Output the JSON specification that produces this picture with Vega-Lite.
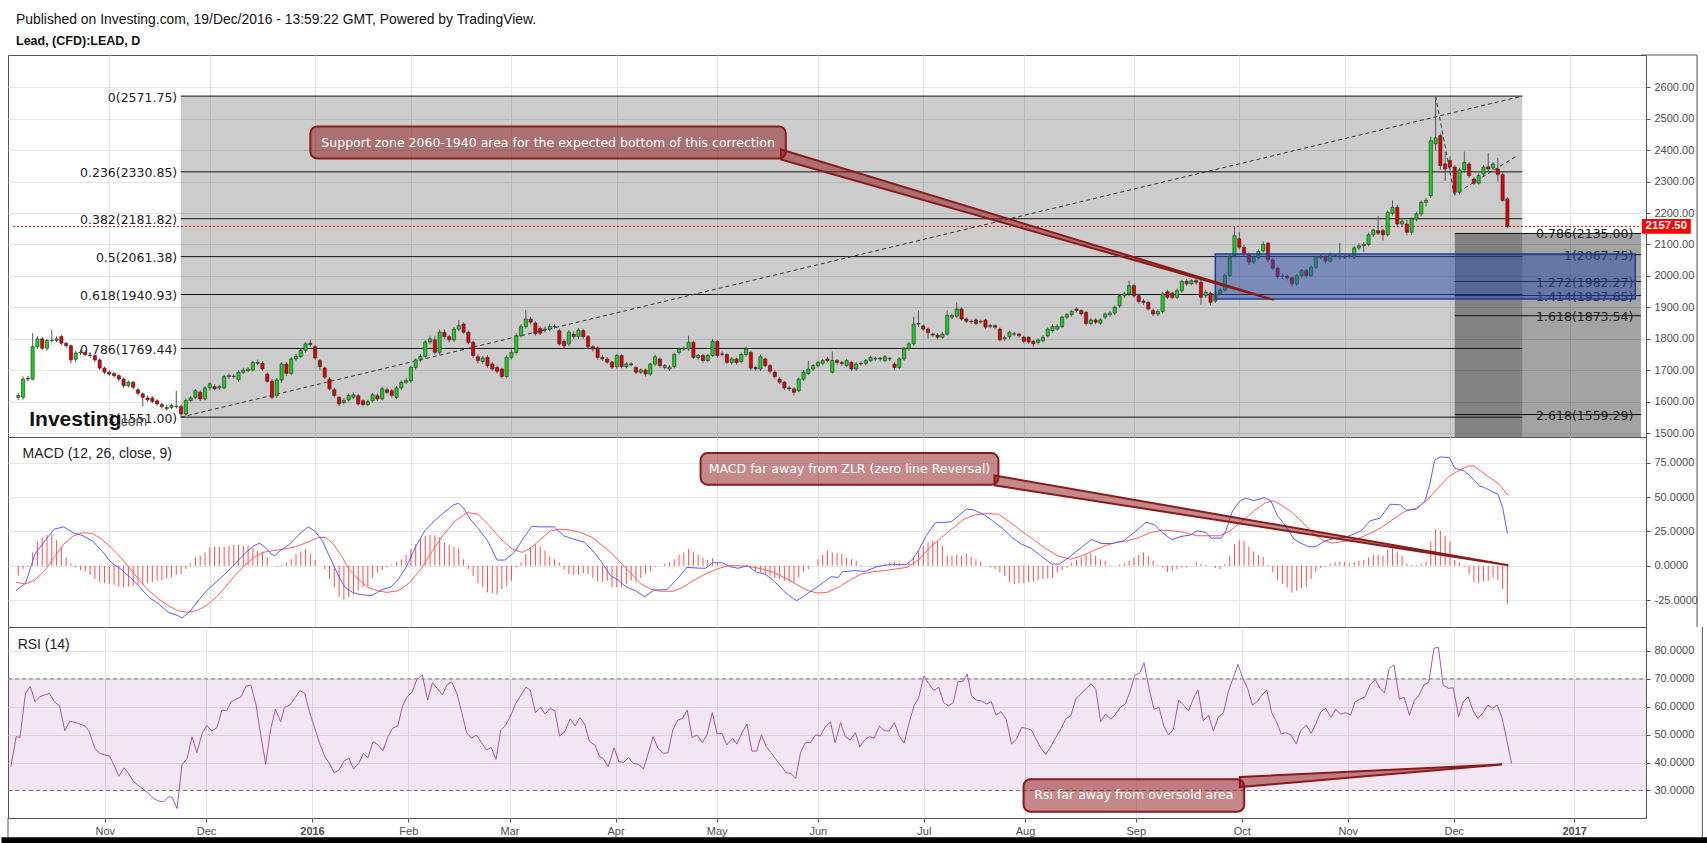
{
"$schema": "https://vega.github.io/schema/vega-lite/v6.json",
"background": "white",
"padding": {"left": 0, "top": 12, "right": 0, "bottom": 0},
"title": {"text": "Published on Investing.com, 19/Dec/2016 - 13:59:22 GMT, Powered by TradingView.", "subtitle": "Lead, (CFD):LEAD, D", "anchor": "start", "dx": 15, "font": "Liberation Sans", "fontSize": 13.9, "fontWeight": "normal", "color": "#111", "subtitleFont": "Liberation Sans", "subtitleFontSize": 12.5, "subtitleFontWeight": "bold", "subtitleColor": "#111", "subtitlePadding": 8, "offset": 7},
"spacing": 0,
"bounds": "flush",
"config": {
  "view": {"stroke": "#555", "strokeWidth": 1},
  "axis": {"gridColor": "#e5e5e5", "gridWidth": 1, "domainColor": "#555", "tickColor": "#555", "labelColor": "#4d4d4d", "labelFont": "Liberation Sans", "labelFontSize": 11, "labelOverlap": false},
  "axisX": {"labels": false, "ticks": false, "domain": false, "grid": true},
  "axisY": {"grid": true, "labelOverlap": false}
},
"datasets": {
"px": [
{"i":-19,"o":1614,"h":1628,"l":1604,"c":1620},{"i":-18,"o":1614,"h":1680,"l":1606,"c":1672},{"i":-17,"o":1672,"h":1682,"l":1665,"c":1675},{"i":-16,"o":1672,"h":1818,"l":1668,"c":1775},{"i":-15,"o":1775,"h":1808,"l":1768,"c":1800},{"i":-14,"o":1800,"h":1806,"l":1764,"c":1770},{"i":-13,"o":1770,"h":1800,"l":1762,"c":1795},{"i":-12,"o":1795,"h":1828,"l":1788,"c":1796},{"i":-11,"o":1795,"h":1808,"l":1790,"c":1800},{"i":-10,"o":1807,"h":1812,"l":1780,"c":1786},
{"i":-9,"o":1786,"h":1790,"l":1772,"c":1778},{"i":-8,"o":1778,"h":1782,"l":1722,"c":1733},{"i":-7,"o":1735,"h":1762,"l":1726,"c":1755},{"i":-6,"o":1755,"h":1766,"l":1748,"c":1758},{"i":-5,"o":1757,"h":1764,"l":1745,"c":1750},{"i":-4,"o":1748,"h":1755,"l":1740,"c":1747},{"i":-3,"o":1747,"h":1750,"l":1726,"c":1733},{"i":-2,"o":1733,"h":1738,"l":1700,"c":1707},{"i":-1,"o":1707,"h":1712,"l":1688,"c":1694},{"i":0,"o":1694,"h":1700,"l":1682,"c":1688},
{"i":1,"o":1690,"h":1694,"l":1676,"c":1683},{"i":2,"o":1683,"h":1688,"l":1665,"c":1672},{"i":3,"o":1672,"h":1676,"l":1644,"c":1651},{"i":4,"o":1651,"h":1668,"l":1645,"c":1662},{"i":5,"o":1662,"h":1666,"l":1640,"c":1646},{"i":6,"o":1638,"h":1644,"l":1620,"c":1627},{"i":7,"o":1625,"h":1630,"l":1585,"c":1614},{"i":8,"o":1612,"h":1620,"l":1600,"c":1606},{"i":9,"o":1612,"h":1618,"l":1596,"c":1601},{"i":10,"o":1603,"h":1608,"l":1588,"c":1593},
{"i":11,"o":1591,"h":1596,"l":1578,"c":1585},{"i":12,"o":1577,"h":1590,"l":1572,"c":1582},{"i":13,"o":1582,"h":1594,"l":1576,"c":1588},{"i":14,"o":1585,"h":1635,"l":1578,"c":1586},{"i":15,"o":1585,"h":1592,"l":1551,"c":1561},{"i":16,"o":1561,"h":1610,"l":1556,"c":1604},{"i":17,"o":1604,"h":1618,"l":1598,"c":1612},{"i":18,"o":1614,"h":1640,"l":1608,"c":1635},{"i":19,"o":1630,"h":1636,"l":1602,"c":1609},{"i":20,"o":1609,"h":1650,"l":1604,"c":1644},
{"i":21,"o":1644,"h":1662,"l":1636,"c":1657},{"i":22,"o":1648,"h":1656,"l":1636,"c":1641},{"i":23,"o":1644,"h":1654,"l":1638,"c":1648},{"i":24,"o":1644,"h":1686,"l":1640,"c":1680},{"i":25,"o":1680,"h":1690,"l":1672,"c":1684},{"i":26,"o":1680,"h":1688,"l":1674,"c":1681},{"i":27,"o":1670,"h":1700,"l":1664,"c":1694},{"i":28,"o":1694,"h":1708,"l":1688,"c":1701},{"i":29,"o":1699,"h":1710,"l":1694,"c":1704},{"i":30,"o":1701,"h":1730,"l":1696,"c":1725},
{"i":31,"o":1722,"h":1734,"l":1716,"c":1725},{"i":32,"o":1722,"h":1728,"l":1698,"c":1704},{"i":33,"o":1688,"h":1694,"l":1660,"c":1665},{"i":34,"o":1665,"h":1672,"l":1608,"c":1614},{"i":35,"o":1620,"h":1676,"l":1612,"c":1669},{"i":36,"o":1669,"h":1726,"l":1660,"c":1720},{"i":37,"o":1720,"h":1726,"l":1682,"c":1690},{"i":38,"o":1690,"h":1742,"l":1684,"c":1736},{"i":39,"o":1736,"h":1752,"l":1728,"c":1744},{"i":40,"o":1744,"h":1770,"l":1738,"c":1763},
{"i":41,"o":1763,"h":1790,"l":1756,"c":1784},{"i":42,"o":1786,"h":1797,"l":1775,"c":1782},{"i":43,"o":1775,"h":1780,"l":1734,"c":1739},{"i":44,"o":1731,"h":1736,"l":1700,"c":1712},{"i":45,"o":1707,"h":1712,"l":1672,"c":1678},{"i":46,"o":1672,"h":1678,"l":1636,"c":1641},{"i":47,"o":1638,"h":1644,"l":1614,"c":1620},{"i":48,"o":1614,"h":1618,"l":1586,"c":1593},{"i":49,"o":1598,"h":1612,"l":1592,"c":1604},{"i":50,"o":1606,"h":1626,"l":1600,"c":1620},
{"i":51,"o":1614,"h":1630,"l":1608,"c":1622},{"i":52,"o":1619,"h":1624,"l":1588,"c":1593},{"i":53,"o":1603,"h":1608,"l":1585,"c":1591},{"i":54,"o":1591,"h":1606,"l":1586,"c":1600},{"i":55,"o":1603,"h":1628,"l":1598,"c":1622},{"i":56,"o":1619,"h":1626,"l":1602,"c":1609},{"i":57,"o":1609,"h":1648,"l":1604,"c":1641},{"i":58,"o":1638,"h":1646,"l":1624,"c":1630},{"i":59,"o":1635,"h":1640,"l":1614,"c":1620},{"i":60,"o":1614,"h":1650,"l":1608,"c":1644},
{"i":61,"o":1644,"h":1668,"l":1638,"c":1662},{"i":62,"o":1662,"h":1676,"l":1656,"c":1667},{"i":63,"o":1667,"h":1714,"l":1660,"c":1709},{"i":64,"o":1709,"h":1738,"l":1702,"c":1733},{"i":65,"o":1733,"h":1752,"l":1726,"c":1744},{"i":66,"o":1744,"h":1796,"l":1738,"c":1790},{"i":67,"o":1790,"h":1810,"l":1782,"c":1800},{"i":68,"o":1797,"h":1810,"l":1750,"c":1757},{"i":69,"o":1757,"h":1830,"l":1750,"c":1821},{"i":70,"o":1821,"h":1830,"l":1800,"c":1807},
{"i":71,"o":1807,"h":1812,"l":1788,"c":1797},{"i":72,"o":1797,"h":1838,"l":1790,"c":1831},{"i":73,"o":1831,"h":1860,"l":1824,"c":1842},{"i":74,"o":1847,"h":1852,"l":1816,"c":1821},{"i":75,"o":1821,"h":1826,"l":1782,"c":1789},{"i":76,"o":1789,"h":1794,"l":1740,"c":1747},{"i":77,"o":1743,"h":1750,"l":1722,"c":1731},{"i":78,"o":1728,"h":1746,"l":1720,"c":1739},{"i":79,"o":1741,"h":1748,"l":1708,"c":1715},{"i":80,"o":1720,"h":1726,"l":1698,"c":1704},
{"i":81,"o":1709,"h":1714,"l":1690,"c":1697},{"i":82,"o":1704,"h":1708,"l":1674,"c":1680},{"i":83,"o":1680,"h":1748,"l":1674,"c":1741},{"i":84,"o":1741,"h":1766,"l":1734,"c":1757},{"i":85,"o":1757,"h":1818,"l":1750,"c":1810},{"i":86,"o":1810,"h":1846,"l":1804,"c":1839},{"i":87,"o":1839,"h":1892,"l":1832,"c":1863},{"i":88,"o":1863,"h":1870,"l":1846,"c":1853},{"i":89,"o":1850,"h":1856,"l":1810,"c":1816},{"i":90,"o":1833,"h":1840,"l":1812,"c":1818},
{"i":91,"o":1828,"h":1840,"l":1820,"c":1831},{"i":92,"o":1831,"h":1848,"l":1824,"c":1839},{"i":93,"o":1839,"h":1846,"l":1832,"c":1840},{"i":94,"o":1826,"h":1832,"l":1778,"c":1784},{"i":95,"o":1792,"h":1798,"l":1770,"c":1778},{"i":96,"o":1784,"h":1828,"l":1776,"c":1821},{"i":97,"o":1815,"h":1824,"l":1800,"c":1807},{"i":98,"o":1807,"h":1834,"l":1800,"c":1828},{"i":99,"o":1826,"h":1832,"l":1800,"c":1807},{"i":100,"o":1807,"h":1812,"l":1768,"c":1775},
{"i":101,"o":1775,"h":1780,"l":1760,"c":1768},{"i":102,"o":1771,"h":1776,"l":1734,"c":1741},{"i":103,"o":1741,"h":1748,"l":1730,"c":1736},{"i":104,"o":1736,"h":1742,"l":1720,"c":1726},{"i":105,"o":1726,"h":1730,"l":1704,"c":1710},{"i":106,"o":1712,"h":1752,"l":1706,"c":1747},{"i":107,"o":1747,"h":1752,"l":1706,"c":1712},{"i":108,"o":1712,"h":1726,"l":1706,"c":1720},{"i":109,"o":1720,"h":1726,"l":1712,"c":1718},{"i":110,"o":1709,"h":1714,"l":1688,"c":1694},
{"i":111,"o":1694,"h":1706,"l":1688,"c":1701},{"i":112,"o":1701,"h":1706,"l":1680,"c":1688},{"i":113,"o":1688,"h":1724,"l":1682,"c":1720},{"i":114,"o":1720,"h":1750,"l":1714,"c":1743},{"i":115,"o":1736,"h":1740,"l":1708,"c":1715},{"i":116,"o":1709,"h":1720,"l":1702,"c":1715},{"i":117,"o":1704,"h":1716,"l":1698,"c":1710},{"i":118,"o":1712,"h":1756,"l":1706,"c":1750},{"i":119,"o":1757,"h":1772,"l":1750,"c":1768},{"i":120,"o":1768,"h":1776,"l":1762,"c":1769},
{"i":121,"o":1768,"h":1810,"l":1762,"c":1789},{"i":122,"o":1789,"h":1794,"l":1736,"c":1741},{"i":123,"o":1741,"h":1752,"l":1734,"c":1747},{"i":124,"o":1747,"h":1752,"l":1724,"c":1731},{"i":125,"o":1731,"h":1752,"l":1726,"c":1747},{"i":126,"o":1747,"h":1800,"l":1742,"c":1792},{"i":127,"o":1792,"h":1796,"l":1740,"c":1747},{"i":128,"o":1752,"h":1760,"l":1744,"c":1751},{"i":129,"o":1750,"h":1754,"l":1720,"c":1725},{"i":130,"o":1725,"h":1742,"l":1718,"c":1736},
{"i":131,"o":1736,"h":1740,"l":1718,"c":1725},{"i":132,"o":1728,"h":1756,"l":1722,"c":1750},{"i":133,"o":1750,"h":1776,"l":1744,"c":1768},{"i":134,"o":1757,"h":1762,"l":1700,"c":1707},{"i":135,"o":1709,"h":1714,"l":1698,"c":1705},{"i":136,"o":1704,"h":1750,"l":1698,"c":1743},{"i":137,"o":1736,"h":1740,"l":1710,"c":1715},{"i":138,"o":1715,"h":1720,"l":1690,"c":1697},{"i":139,"o":1694,"h":1700,"l":1674,"c":1680},{"i":140,"o":1672,"h":1678,"l":1656,"c":1662},
{"i":141,"o":1662,"h":1666,"l":1638,"c":1644},{"i":142,"o":1644,"h":1650,"l":1634,"c":1641},{"i":143,"o":1641,"h":1646,"l":1620,"c":1630},{"i":144,"o":1635,"h":1678,"l":1630,"c":1672},{"i":145,"o":1672,"h":1700,"l":1666,"c":1694},{"i":146,"o":1690,"h":1730,"l":1684,"c":1704},{"i":147,"o":1704,"h":1720,"l":1698,"c":1715},{"i":148,"o":1715,"h":1730,"l":1708,"c":1725},{"i":149,"o":1722,"h":1736,"l":1716,"c":1731},{"i":150,"o":1736,"h":1742,"l":1726,"c":1731},
{"i":151,"o":1694,"h":1760,"l":1690,"c":1731},{"i":152,"o":1731,"h":1736,"l":1718,"c":1725},{"i":153,"o":1725,"h":1730,"l":1714,"c":1722},{"i":154,"o":1715,"h":1736,"l":1710,"c":1731},{"i":155,"o":1725,"h":1730,"l":1698,"c":1704},{"i":156,"o":1704,"h":1726,"l":1698,"c":1720},{"i":157,"o":1720,"h":1728,"l":1714,"c":1722},{"i":158,"o":1722,"h":1736,"l":1716,"c":1731},{"i":159,"o":1731,"h":1746,"l":1726,"c":1741},{"i":160,"o":1736,"h":1744,"l":1730,"c":1738},
{"i":161,"o":1736,"h":1742,"l":1728,"c":1739},{"i":162,"o":1731,"h":1748,"l":1726,"c":1743},{"i":163,"o":1736,"h":1742,"l":1730,"c":1738},{"i":164,"o":1720,"h":1726,"l":1700,"c":1709},{"i":165,"o":1709,"h":1742,"l":1704,"c":1736},{"i":166,"o":1736,"h":1774,"l":1730,"c":1769},{"i":167,"o":1769,"h":1790,"l":1762,"c":1784},{"i":168,"o":1784,"h":1870,"l":1778,"c":1847},{"i":169,"o":1847,"h":1890,"l":1838,"c":1849},{"i":170,"o":1841,"h":1846,"l":1826,"c":1831},
{"i":171,"o":1831,"h":1836,"l":1800,"c":1820},{"i":172,"o":1815,"h":1820,"l":1806,"c":1812},{"i":173,"o":1812,"h":1818,"l":1798,"c":1805},{"i":174,"o":1805,"h":1822,"l":1800,"c":1815},{"i":175,"o":1815,"h":1890,"l":1810,"c":1874},{"i":176,"o":1869,"h":1880,"l":1862,"c":1874},{"i":177,"o":1872,"h":1916,"l":1866,"c":1895},{"i":178,"o":1895,"h":1900,"l":1858,"c":1863},{"i":179,"o":1863,"h":1868,"l":1850,"c":1856},{"i":180,"o":1856,"h":1862,"l":1848,"c":1855},
{"i":181,"o":1860,"h":1866,"l":1844,"c":1849},{"i":182,"o":1854,"h":1862,"l":1848,"c":1856},{"i":183,"o":1860,"h":1864,"l":1832,"c":1837},{"i":184,"o":1842,"h":1848,"l":1834,"c":1840},{"i":185,"o":1842,"h":1846,"l":1830,"c":1837},{"i":186,"o":1831,"h":1836,"l":1792,"c":1797},{"i":187,"o":1800,"h":1810,"l":1794,"c":1804},{"i":188,"o":1807,"h":1826,"l":1800,"c":1821},{"i":189,"o":1816,"h":1822,"l":1808,"c":1815},{"i":190,"o":1815,"h":1820,"l":1804,"c":1810},
{"i":191,"o":1805,"h":1810,"l":1786,"c":1792},{"i":192,"o":1805,"h":1808,"l":1784,"c":1790},{"i":193,"o":1792,"h":1796,"l":1775,"c":1784},{"i":194,"o":1789,"h":1802,"l":1782,"c":1796},{"i":195,"o":1794,"h":1812,"l":1788,"c":1805},{"i":196,"o":1810,"h":1836,"l":1804,"c":1831},{"i":197,"o":1826,"h":1846,"l":1820,"c":1839},{"i":198,"o":1831,"h":1846,"l":1826,"c":1840},{"i":199,"o":1839,"h":1874,"l":1834,"c":1869},{"i":200,"o":1869,"h":1882,"l":1862,"c":1877},
{"i":201,"o":1877,"h":1892,"l":1870,"c":1887},{"i":202,"o":1895,"h":1900,"l":1884,"c":1890},{"i":203,"o":1890,"h":1894,"l":1874,"c":1880},{"i":204,"o":1884,"h":1888,"l":1842,"c":1849},{"i":205,"o":1849,"h":1866,"l":1842,"c":1860},{"i":206,"o":1860,"h":1866,"l":1846,"c":1853},{"i":207,"o":1850,"h":1866,"l":1844,"c":1860},{"i":208,"o":1869,"h":1884,"l":1862,"c":1879},{"i":209,"o":1877,"h":1888,"l":1870,"c":1882},{"i":210,"o":1882,"h":1906,"l":1876,"c":1900},
{"i":211,"o":1905,"h":1942,"l":1898,"c":1937},{"i":212,"o":1937,"h":1950,"l":1930,"c":1943},{"i":213,"o":1943,"h":1985,"l":1936,"c":1969},{"i":214,"o":1969,"h":1974,"l":1930,"c":1937},{"i":215,"o":1937,"h":1942,"l":1912,"c":1919},{"i":216,"o":1920,"h":1926,"l":1908,"c":1916},{"i":217,"o":1916,"h":1920,"l":1890,"c":1895},{"i":218,"o":1890,"h":1896,"l":1872,"c":1879},{"i":219,"o":1879,"h":1894,"l":1872,"c":1887},{"i":220,"o":1887,"h":1948,"l":1880,"c":1943},
{"i":221,"o":1950,"h":1956,"l":1926,"c":1932},{"i":222,"o":1945,"h":1950,"l":1926,"c":1932},{"i":223,"o":1932,"h":1960,"l":1926,"c":1953},{"i":224,"o":1953,"h":1988,"l":1946,"c":1983},{"i":225,"o":1983,"h":1990,"l":1968,"c":1975},{"i":226,"o":1975,"h":1990,"l":1970,"c":1985},{"i":227,"o":1985,"h":1992,"l":1972,"c":1980},{"i":228,"o":1980,"h":1988,"l":1908,"c":1932},{"i":229,"o":1937,"h":1956,"l":1930,"c":1948},{"i":230,"o":1945,"h":1950,"l":1906,"c":1916},
{"i":231,"o":1920,"h":1948,"l":1914,"c":1943},{"i":232,"o":1943,"h":1962,"l":1938,"c":1955},{"i":233,"o":1955,"h":2008,"l":1950,"c":2001},{"i":234,"o":2001,"h":2066,"l":1996,"c":2059},{"i":235,"o":2065,"h":2155,"l":2058,"c":2128},{"i":236,"o":2118,"h":2140,"l":2084,"c":2091},{"i":237,"o":2091,"h":2098,"l":2064,"c":2072},{"i":238,"o":2068,"h":2074,"l":2036,"c":2044},{"i":239,"o":2044,"h":2064,"l":2038,"c":2059},{"i":240,"o":2059,"h":2084,"l":2052,"c":2078},
{"i":241,"o":2080,"h":2110,"l":2074,"c":2100},{"i":242,"o":2104,"h":2108,"l":2044,"c":2051},{"i":243,"o":2051,"h":2058,"l":2018,"c":2025},{"i":244,"o":2025,"h":2030,"l":1990,"c":1998},{"i":245,"o":1998,"h":2008,"l":1990,"c":2000},{"i":246,"o":2000,"h":2004,"l":1986,"c":1994},{"i":247,"o":1994,"h":1998,"l":1965,"c":1975},{"i":248,"o":1975,"h":2006,"l":1968,"c":2001},{"i":249,"o":2001,"h":2022,"l":1994,"c":2017},{"i":250,"o":2017,"h":2022,"l":1994,"c":2001},
{"i":251,"o":2001,"h":2034,"l":1996,"c":2028},{"i":252,"o":2028,"h":2064,"l":2022,"c":2059},{"i":253,"o":2059,"h":2068,"l":2052,"c":2062},{"i":254,"o":2062,"h":2066,"l":2040,"c":2047},{"i":255,"o":2047,"h":2074,"l":2042,"c":2068},{"i":256,"o":2062,"h":2070,"l":2056,"c":2064},{"i":257,"o":2061,"h":2105,"l":2050,"c":2062},{"i":258,"o":2062,"h":2068,"l":2054,"c":2060},{"i":259,"o":2062,"h":2072,"l":2056,"c":2064},{"i":260,"o":2060,"h":2096,"l":2054,"c":2089},
{"i":261,"o":2089,"h":2104,"l":2082,"c":2096},{"i":262,"o":2096,"h":2108,"l":2076,"c":2100},{"i":263,"o":2100,"h":2138,"l":2094,"c":2131},{"i":264,"o":2131,"h":2150,"l":2124,"c":2146},{"i":265,"o":2144,"h":2190,"l":2130,"c":2136},{"i":266,"o":2144,"h":2150,"l":2112,"c":2131},{"i":267,"o":2131,"h":2208,"l":2126,"c":2202},{"i":268,"o":2199,"h":2240,"l":2192,"c":2218},{"i":269,"o":2218,"h":2226,"l":2158,"c":2165},{"i":270,"o":2165,"h":2180,"l":2156,"c":2174},
{"i":271,"o":2165,"h":2178,"l":2130,"c":2139},{"i":272,"o":2139,"h":2186,"l":2130,"c":2181},{"i":273,"o":2181,"h":2204,"l":2174,"c":2197},{"i":274,"o":2197,"h":2240,"l":2190,"c":2234},{"i":275,"o":2234,"h":2248,"l":2220,"c":2240},{"i":276,"o":2255,"h":2443,"l":2248,"c":2430},{"i":277,"o":2420,"h":2572,"l":2398,"c":2439},{"i":278,"o":2446,"h":2452,"l":2338,"c":2351},{"i":279,"o":2356,"h":2394,"l":2302,"c":2340},{"i":280,"o":2367,"h":2380,"l":2326,"c":2346},
{"i":281,"o":2346,"h":2352,"l":2255,"c":2266},{"i":282,"o":2266,"h":2344,"l":2258,"c":2337},{"i":283,"o":2337,"h":2395,"l":2330,"c":2361},{"i":284,"o":2356,"h":2362,"l":2312,"c":2319},{"i":285,"o":2308,"h":2314,"l":2290,"c":2295},{"i":286,"o":2295,"h":2326,"l":2290,"c":2319},{"i":287,"o":2324,"h":2352,"l":2318,"c":2346},{"i":288,"o":2347,"h":2390,"l":2330,"c":2340},{"i":289,"o":2343,"h":2362,"l":2336,"c":2356},{"i":290,"o":2340,"h":2375,"l":2300,"c":2322},
{"i":291,"o":2322,"h":2330,"l":2236,"c":2240},{"i":292,"o":2245,"h":2250,"l":2152,"c":2157.5}
],
"hist": [
{"i":-19,"v":-7.3},{"i":-18,"v":-2.4},{"i":-17,"v":-0.7},{"i":-16,"v":9.7},{"i":-15,"v":17.4},{"i":-14,"v":20.6},{"i":-13,"v":22.3},{"i":-12,"v":23},{"i":-11,"v":18.6},{"i":-10,"v":13.8},{"i":-9,"v":6},{"i":-8,"v":1.7},{"i":-7,"v":-1.2},{"i":-6,"v":-3.1},{"i":-5,"v":-4.4},{"i":-4,"v":-6.8},{"i":-3,"v":-9.7},{"i":-2,"v":-12.1},{"i":-1,"v":-12.8},{"i":0,"v":-13.3},
{"i":1,"v":-13.8},{"i":2,"v":-15.3},{"i":3,"v":-15.7},{"i":4,"v":-15.3},{"i":5,"v":-14.5},{"i":6,"v":-13.8},{"i":7,"v":-13.8},{"i":8,"v":-12.8},{"i":9,"v":-12.1},{"i":10,"v":-10.9},{"i":11,"v":-10.4},{"i":12,"v":-9.2},{"i":13,"v":-8.5},{"i":14,"v":-6.5},{"i":15,"v":-6},{"i":16,"v":-2.4},{"i":17,"v":1.7},{"i":18,"v":6},{"i":19,"v":7.3},{"i":20,"v":9.7},
{"i":21,"v":13.3},{"i":22,"v":13.8},{"i":23,"v":13.8},{"i":24,"v":13.8},{"i":25,"v":14.3},{"i":26,"v":15.3},{"i":27,"v":15.3},{"i":28,"v":14.5},{"i":29,"v":14.5},{"i":30,"v":12.8},{"i":31,"v":10.9},{"i":32,"v":9.7},{"i":33,"v":6},{"i":34,"v":0},{"i":35,"v":-0.7},{"i":36,"v":0.7},{"i":37,"v":2.4},{"i":38,"v":4.8},{"i":39,"v":8.5},{"i":40,"v":10.4},
{"i":41,"v":12.1},{"i":42,"v":8.5},{"i":43,"v":4.1},{"i":44,"v":0},{"i":45,"v":-2.4},{"i":46,"v":-9.7},{"i":47,"v":-15.7},{"i":48,"v":-22.5},{"i":49,"v":-24.5},{"i":50,"v":-23},{"i":51,"v":-21},{"i":52,"v":-18.2},{"i":53,"v":-15.7},{"i":54,"v":-15},{"i":55,"v":-8.5},{"i":56,"v":-4.8},{"i":57,"v":-3.1},{"i":58,"v":-1.2},{"i":59,"v":0.7},{"i":60,"v":2.9},
{"i":61,"v":4.8},{"i":62,"v":8},{"i":63,"v":12.1},{"i":64,"v":15.7},{"i":65,"v":19.4},{"i":66,"v":21.8},{"i":67,"v":22.5},{"i":68,"v":22.3},{"i":69,"v":20.6},{"i":70,"v":17},{"i":71,"v":15.3},{"i":72,"v":13.8},{"i":73,"v":12.8},{"i":74,"v":4.8},{"i":75,"v":-2.4},{"i":76,"v":-7.3},{"i":77,"v":-12.8},{"i":78,"v":-15.7},{"i":79,"v":-19.4},{"i":80,"v":-20.1},
{"i":81,"v":-21},{"i":82,"v":-17},{"i":83,"v":-14.5},{"i":84,"v":-10.9},{"i":85,"v":-1.2},{"i":86,"v":2.4},{"i":87,"v":8.5},{"i":88,"v":13.3},{"i":89,"v":15.7},{"i":90,"v":13.8},{"i":91,"v":10.9},{"i":92,"v":7.3},{"i":93,"v":4.8},{"i":94,"v":2.4},{"i":95,"v":-3.1},{"i":96,"v":-6},{"i":97,"v":-6.5},{"i":98,"v":-6.5},{"i":99,"v":-5.6},{"i":100,"v":-6},
{"i":101,"v":-9},{"i":102,"v":-11.4},{"i":103,"v":-12.1},{"i":104,"v":-10.9},{"i":105,"v":-15.7},{"i":106,"v":-15.7},{"i":107,"v":-15.7},{"i":108,"v":-13.3},{"i":109,"v":-10.9},{"i":110,"v":-12.1},{"i":111,"v":-9},{"i":112,"v":-6},{"i":113,"v":-4.1},{"i":114,"v":-0.7},{"i":115,"v":0},{"i":116,"v":1.2},{"i":117,"v":2.4},{"i":118,"v":4.8},{"i":119,"v":8},{"i":120,"v":9.7},
{"i":121,"v":12.1},{"i":122,"v":9.7},{"i":123,"v":8},{"i":124,"v":5.6},{"i":125,"v":4.1},{"i":126,"v":5.6},{"i":127,"v":2.4},{"i":128,"v":0.7},{"i":129,"v":-0.7},{"i":130,"v":-0.7},{"i":131,"v":0},{"i":132,"v":0},{"i":133,"v":-0.7},{"i":134,"v":-1.7},{"i":135,"v":-3.6},{"i":136,"v":-4.8},{"i":137,"v":-6},{"i":138,"v":-7.3},{"i":139,"v":-9},{"i":140,"v":-9.7},
{"i":141,"v":-10.9},{"i":142,"v":-12.1},{"i":143,"v":-12.8},{"i":144,"v":-8.5},{"i":145,"v":-4.8},{"i":146,"v":-2.4},{"i":147,"v":0},{"i":148,"v":4.8},{"i":149,"v":8},{"i":150,"v":10.9},{"i":151,"v":9.7},{"i":152,"v":9},{"i":153,"v":8.5},{"i":154,"v":5.6},{"i":155,"v":4.8},{"i":156,"v":3.6},{"i":157,"v":0.7},{"i":158,"v":0},{"i":159,"v":-0.7},{"i":160,"v":-1.2},
{"i":161,"v":0.7},{"i":162,"v":1.2},{"i":163,"v":2.4},{"i":164,"v":3.1},{"i":165,"v":2.4},{"i":166,"v":0.7},{"i":167,"v":2.4},{"i":168,"v":5.6},{"i":169,"v":10.9},{"i":170,"v":14.5},{"i":171,"v":17},{"i":172,"v":18.2},{"i":173,"v":17.7},{"i":174,"v":14.5},{"i":175,"v":7.3},{"i":176,"v":7.3},{"i":177,"v":8},{"i":178,"v":7.3},{"i":179,"v":8.5},{"i":180,"v":6.5},
{"i":181,"v":4.8},{"i":182,"v":3.1},{"i":183,"v":0},{"i":184,"v":-1.2},{"i":185,"v":-2.4},{"i":186,"v":-4.8},{"i":187,"v":-7.3},{"i":188,"v":-12.1},{"i":189,"v":-13.3},{"i":190,"v":-12.8},{"i":191,"v":-12.8},{"i":192,"v":-12.1},{"i":193,"v":-11.4},{"i":194,"v":-10.4},{"i":195,"v":-9.7},{"i":196,"v":-9},{"i":197,"v":-8.5},{"i":198,"v":-4.8},{"i":199,"v":-3.1},{"i":200,"v":-1.2},
{"i":201,"v":2.4},{"i":202,"v":4.1},{"i":203,"v":6},{"i":204,"v":8},{"i":205,"v":9},{"i":206,"v":7.3},{"i":207,"v":4.8},{"i":208,"v":3.6},{"i":209,"v":0.7},{"i":210,"v":0},{"i":211,"v":0.7},{"i":212,"v":1.7},{"i":213,"v":3.6},{"i":214,"v":6},{"i":215,"v":8},{"i":216,"v":9.7},{"i":217,"v":7.3},{"i":218,"v":3.6},{"i":219,"v":0.7},{"i":220,"v":-1.2},
{"i":221,"v":-4.8},{"i":222,"v":-3.6},{"i":223,"v":-2.4},{"i":224,"v":-1.2},{"i":225,"v":-1.2},{"i":226,"v":0},{"i":227,"v":3.1},{"i":228,"v":1.2},{"i":229,"v":0.7},{"i":230,"v":0},{"i":231,"v":-1.7},{"i":232,"v":-2.4},{"i":233,"v":1.2},{"i":234,"v":7.3},{"i":235,"v":15.7},{"i":236,"v":18.6},{"i":237,"v":18.2},{"i":238,"v":13.8},{"i":239,"v":10.4},{"i":240,"v":8},
{"i":241,"v":6.5},{"i":242,"v":0.7},{"i":243,"v":-4.8},{"i":244,"v":-10.4},{"i":245,"v":-13.3},{"i":246,"v":-15.7},{"i":247,"v":-19.4},{"i":248,"v":-18.2},{"i":249,"v":-16.2},{"i":250,"v":-15.3},{"i":251,"v":-9.7},{"i":252,"v":-4.8},{"i":253,"v":-1.7},{"i":254,"v":-0.7},{"i":255,"v":1.2},{"i":256,"v":2.7},{"i":257,"v":2.7},{"i":258,"v":2.7},{"i":259,"v":1.7},{"i":260,"v":2.7},
{"i":261,"v":3.6},{"i":262,"v":4.1},{"i":263,"v":6},{"i":264,"v":8},{"i":265,"v":8},{"i":266,"v":7.3},{"i":267,"v":11.4},{"i":268,"v":12.8},{"i":269,"v":10.4},{"i":270,"v":7.3},{"i":271,"v":1.7},{"i":272,"v":0.7},{"i":273,"v":0.5},{"i":274,"v":1.7},{"i":275,"v":3.1},{"i":276,"v":17.7},{"i":277,"v":26.6},{"i":278,"v":25.4},{"i":279,"v":21.8},{"i":280,"v":17.7},
{"i":281,"v":4.1},{"i":282,"v":2.4},{"i":283,"v":-0.7},{"i":284,"v":-6},{"i":285,"v":-12.1},{"i":286,"v":-12.8},{"i":287,"v":-11.4},{"i":288,"v":-10.9},{"i":289,"v":-8.5},{"i":290,"v":-10.4},{"i":291,"v":-17},{"i":292,"v":-27.4}
],
"mb": [
{"i":-19.5,"v":-18},{"i":-17.5,"v":-12.8},{"i":-15.5,"v":8.5},{"i":-13.5,"v":18},{"i":-11.5,"v":26.6},{"i":-9.5,"v":28.3},{"i":-7.5,"v":24},{"i":-5.5,"v":21.8},{"i":-3.5,"v":18},{"i":-1.6,"v":11},{"i":0.4,"v":2.4},{"i":2.4,"v":-2.4},{"i":4.4,"v":-8.5},{"i":6.4,"v":-15.7},{"i":8.3,"v":-23},{"i":10.3,"v":-27.8},{"i":12.3,"v":-33.9},{"i":14.3,"v":-36.3},{"i":15.2,"v":-38},{"i":16.7,"v":-34},
{"i":18.3,"v":-26.6},{"i":20.3,"v":-18.2},{"i":22.3,"v":-12},{"i":24.2,"v":-6},{"i":26.2,"v":1.2},{"i":28.2,"v":8.5},{"i":30.2,"v":14.5},{"i":31.4,"v":16.5},{"i":32.6,"v":13.3},{"i":33.8,"v":8.5},{"i":34.6,"v":7.3},{"i":35.7,"v":10.9},{"i":37.7,"v":15.7},{"i":39.7,"v":23},{"i":41.5,"v":28.3},{"i":42.9,"v":25.4},{"i":44.5,"v":18.2},{"i":46.1,"v":6},{"i":47.7,"v":-6},{"i":49.2,"v":-15.7},
{"i":50.8,"v":-19.4},{"i":52.4,"v":-21},{"i":54.8,"v":-21.8},{"i":56,"v":-19.4},{"i":57.2,"v":-17},{"i":58.8,"v":-15.7},{"i":60.4,"v":-9.7},{"i":62,"v":-1.2},{"i":63.9,"v":13.3},{"i":65.9,"v":25.4},{"i":67.9,"v":32.7},{"i":69.9,"v":38.7},{"i":71.9,"v":44.3},{"i":72.9,"v":45.5},{"i":73.9,"v":42.4},{"i":75.4,"v":33.9},{"i":77,"v":27.4},{"i":79,"v":18.2},{"i":81,"v":4.1},{"i":82.6,"v":4.1},
{"i":84.6,"v":9.7},{"i":86.6,"v":20.6},{"i":88.3,"v":28.8},{"i":89.8,"v":28.3},{"i":92.9,"v":28.3},{"i":94.9,"v":21.8},{"i":96.9,"v":19.4},{"i":99.3,"v":17},{"i":101.3,"v":9.7},{"i":103.1,"v":1.2},{"i":104.7,"v":-7.3},{"i":106.3,"v":-10.4},{"i":107.9,"v":-15.3},{"i":109.9,"v":-18.2},{"i":111.8,"v":-22.5},{"i":113.8,"v":-17.7},{"i":116.5,"v":-17.4},{"i":118.6,"v":-9.7},{"i":120.6,"v":-1.2},{"i":122.9,"v":-1.7},
{"i":124.5,"v":-1.9},{"i":126.1,"v":2.2},{"i":128.1,"v":2.2},{"i":129.7,"v":-0.7},{"i":131.3,"v":-1.9},{"i":133.3,"v":0},{"i":135.2,"v":-4.8},{"i":136.9,"v":-6},{"i":138.8,"v":-10.9},{"i":140.8,"v":-18.2},{"i":142.4,"v":-23},{"i":143.6,"v":-25.4},{"i":145.2,"v":-21.8},{"i":147.2,"v":-17},{"i":149.2,"v":-12.1},{"i":150.7,"v":-8},{"i":152.3,"v":-8.5},{"i":153.1,"v":-4.4},{"i":155.5,"v":-3.6},{"i":157.9,"v":-4.1},
{"i":160.3,"v":-0.7},{"i":161.9,"v":0.2},{"i":163.5,"v":1.2},{"i":165,"v":0.7},{"i":166.6,"v":1.2},{"i":167.8,"v":4.8},{"i":169,"v":10.9},{"i":170.6,"v":21.8},{"i":172.6,"v":31.5},{"i":174.2,"v":31.5},{"i":175.8,"v":32},{"i":177.4,"v":36.3},{"i":179,"v":41.2},{"i":180.5,"v":40.7},{"i":182.5,"v":37.5},{"i":184.5,"v":32.7},{"i":186.5,"v":27.4},{"i":188.5,"v":20.6},{"i":190.5,"v":15.7},{"i":192.5,"v":12.8},
{"i":194.5,"v":7.3},{"i":196.8,"v":1.2},{"i":198.4,"v":1.2},{"i":200.4,"v":6},{"i":203.2,"v":13.8},{"i":205.2,"v":19.1},{"i":207.1,"v":16.2},{"i":209.5,"v":16.2},{"i":211.9,"v":18.2},{"i":214.3,"v":24.9},{"i":216.5,"v":31.7},{"i":218.3,"v":29.8},{"i":219.9,"v":24.2},{"i":221.9,"v":18.9},{"i":223.8,"v":21.3},{"i":225.8,"v":22.3},{"i":227.1,"v":25.4},{"i":229.1,"v":24.2},{"i":230.1,"v":20.1},{"i":232.2,"v":20.1},
{"i":233.2,"v":25.4},{"i":234.6,"v":40},{"i":236.3,"v":47.7},{"i":237.4,"v":49.2},{"i":239.1,"v":47.2},{"i":241.2,"v":49.6},{"i":242.6,"v":47.2},{"i":244,"v":36.3},{"i":245.7,"v":29},{"i":247.4,"v":19.4},{"i":248.5,"v":17},{"i":250.5,"v":13.8},{"i":251.9,"v":13.8},{"i":254,"v":18.2},{"i":256,"v":19.9},{"i":258.1,"v":20.6},{"i":259.5,"v":22.5},{"i":261.5,"v":25.4},{"i":263.3,"v":32.7},{"i":265.4,"v":34.6},
{"i":267.5,"v":44.8},{"i":269.6,"v":44.3},{"i":270.9,"v":40.4},{"i":273,"v":41.2},{"i":274.8,"v":47.2},{"i":275.8,"v":59.3},{"i":276.8,"v":76.8},{"i":277.9,"v":79.2},{"i":279.9,"v":78.7},{"i":281,"v":70.9},{"i":283,"v":69},{"i":284.4,"v":64.6},{"i":286.2,"v":58.1},{"i":287.2,"v":56.9},{"i":288.2,"v":55},{"i":290,"v":52.1},{"i":291,"v":42.4},{"i":292,"v":23.5}
],
"ms": [
{"i":-19.5,"v":-12},{"i":-17.5,"v":-13.3},{"i":-15.5,"v":-10.4},{"i":-13.5,"v":-3.6},{"i":-11.5,"v":6},{"i":-9.5,"v":15.7},{"i":-7.5,"v":21.8},{"i":-5.5,"v":24},{"i":-3.5,"v":23.5},{"i":-1.6,"v":19.4},{"i":0.4,"v":13.3},{"i":2.4,"v":6},{"i":4.4,"v":-2.4},{"i":6.4,"v":-10.9},{"i":8.3,"v":-18.2},{"i":10.3,"v":-24.2},{"i":12.3,"v":-29},{"i":14.3,"v":-32.7},{"i":16.2,"v":-33.9},{"i":18.3,"v":-32.7},
{"i":20.3,"v":-29},{"i":22.3,"v":-23},{"i":24.2,"v":-15.7},{"i":26.2,"v":-7.3},{"i":28.2,"v":0},{"i":30.2,"v":6},{"i":32.1,"v":9.7},{"i":34.1,"v":10.9},{"i":36.5,"v":12.1},{"i":38.9,"v":13.8},{"i":41.3,"v":17},{"i":43.7,"v":20.6},{"i":45.2,"v":20.6},{"i":46.8,"v":15.7},{"i":48.5,"v":7.3},{"i":50,"v":-2.4},{"i":52,"v":-9.7},{"i":54,"v":-15.7},{"i":56,"v":-18.2},{"i":58,"v":-19.4},
{"i":60.4,"v":-18.2},{"i":62.8,"v":-12.1},{"i":65.1,"v":-2.4},{"i":67.5,"v":10.9},{"i":69.9,"v":23},{"i":72.3,"v":32.7},{"i":74.8,"v":38.7},{"i":77,"v":37.5},{"i":79.4,"v":29},{"i":81.8,"v":19.4},{"i":84.2,"v":12.1},{"i":86.2,"v":9.7},{"i":88.2,"v":13.3},{"i":90.1,"v":19.4},{"i":92.2,"v":25.4},{"i":94.1,"v":26.6},{"i":96.1,"v":26},{"i":98.5,"v":24.2},{"i":100.9,"v":20.6},{"i":103.1,"v":14.5},
{"i":105.1,"v":8.5},{"i":107.1,"v":1.2},{"i":109.1,"v":-6},{"i":111.1,"v":-13.3},{"i":113.1,"v":-17},{"i":115.1,"v":-18.6},{"i":117.8,"v":-18.6},{"i":119.8,"v":-15.7},{"i":122.2,"v":-10.4},{"i":124.5,"v":-6},{"i":126.9,"v":-2.4},{"i":129.3,"v":0},{"i":131.7,"v":0},{"i":134.1,"v":-0.7},{"i":136.4,"v":-2.4},{"i":138.8,"v":-4.8},{"i":141.2,"v":-9},{"i":143.6,"v":-13.8},{"i":146,"v":-18.2},{"i":148,"v":-19.9},
{"i":149.9,"v":-19.4},{"i":152.3,"v":-15.7},{"i":154.7,"v":-10.4},{"i":157.1,"v":-6},{"i":159.5,"v":-4.4},{"i":161.9,"v":-3.6},{"i":164.2,"v":-2.4},{"i":166.6,"v":-1.2},{"i":169,"v":4.1},{"i":171.4,"v":13.3},{"i":173.8,"v":20.6},{"i":176.2,"v":27.4},{"i":178.5,"v":33.9},{"i":180.9,"v":37},{"i":183.3,"v":38},{"i":185.7,"v":37.5},{"i":188,"v":32},{"i":190.5,"v":25.4},{"i":192.9,"v":19.4},{"i":195.2,"v":13.3},
{"i":198,"v":7.3},{"i":200.8,"v":4.8},{"i":203.2,"v":7.3},{"i":205.5,"v":10.9},{"i":207.9,"v":14.5},{"i":210.3,"v":17},{"i":212.7,"v":18.2},{"i":215.1,"v":20.6},{"i":217.5,"v":24.2},{"i":219.9,"v":25.9},{"i":222.3,"v":25.4},{"i":224.6,"v":24.2},{"i":227.1,"v":21.8},{"i":231.8,"v":21.8},{"i":233.9,"v":24.9},{"i":236.3,"v":31.5},{"i":239.1,"v":40},{"i":241.5,"v":46},{"i":243.3,"v":47.2},{"i":245,"v":43.6},
{"i":247.1,"v":38.7},{"i":249.2,"v":31.5},{"i":251.2,"v":24.2},{"i":253.3,"v":18.6},{"i":255.4,"v":16.5},{"i":257.4,"v":17.4},{"i":259.5,"v":18.6},{"i":261.5,"v":20.6},{"i":263.7,"v":24.2},{"i":265.7,"v":27.8},{"i":267.8,"v":33.2},{"i":270.6,"v":39.5},{"i":273.3,"v":42.4},{"i":275.4,"v":48.4},{"i":277.5,"v":56.4},{"i":279.5,"v":64.2},{"i":282.3,"v":70.2},{"i":284,"v":72.6},{"i":285,"v":72.6},{"i":286.4,"v":69},
{"i":288.5,"v":63.7},{"i":290.3,"v":59.3},{"i":292.2,"v":50.8}
],
"rsi": [
{"i":-19.5,"v":38.5},{"i":-18.4,"v":49.3},{"i":-17.6,"v":49},{"i":-16.5,"v":64.6},{"i":-15.5,"v":67.4},{"i":-14.5,"v":61.8},{"i":-13.5,"v":63.6},{"i":-12.5,"v":64.2},{"i":-11.5,"v":64.8},{"i":-10.5,"v":61.8},{"i":-9.4,"v":60.3},{"i":-8.3,"v":51.4},{"i":-7.3,"v":54.9},{"i":-6.1,"v":54.3},{"i":-5.2,"v":53.8},{"i":-4.1,"v":53.1},{"i":-3.2,"v":51},{"i":-2.1,"v":45.1},{"i":-1.1,"v":43.3},{"i":0,"v":42.7},
{"i":1,"v":42.3},{"i":1.9,"v":39.1},{"i":2.9,"v":35.1},{"i":4,"v":38.1},{"i":5,"v":35.9},{"i":6,"v":33.1},{"i":7.1,"v":31.6},{"i":8.2,"v":30.1},{"i":9.1,"v":28.9},{"i":10.2,"v":27.1},{"i":11.1,"v":26.2},{"i":12.2,"v":25.9},{"i":13.2,"v":27.7},{"i":14,"v":27.5},{"i":15,"v":23.5},{"i":16,"v":39.1},{"i":17.1,"v":41.5},{"i":18.1,"v":49.3},{"i":19.1,"v":43.5},{"i":20.2,"v":50.5},
{"i":21.2,"v":53.3},{"i":22.2,"v":51.3},{"i":23.3,"v":52.6},{"i":24.3,"v":58.8},{"i":25.3,"v":58.6},{"i":26.2,"v":61.8},{"i":27.2,"v":62.7},{"i":28.3,"v":63.6},{"i":29.3,"v":67.4},{"i":30.3,"v":67.8},{"i":31.4,"v":60.6},{"i":32.3,"v":50.5},{"i":33.4,"v":39.4},{"i":34.4,"v":51.7},{"i":35.4,"v":59.1},{"i":36.5,"v":54.6},{"i":37.3,"v":59.8},{"i":38.4,"v":60.6},{"i":39.4,"v":63},{"i":40.5,"v":65.8},
{"i":41.5,"v":64.8},{"i":42.6,"v":57.4},{"i":43.7,"v":51.7},{"i":44.7,"v":46.3},{"i":45.7,"v":42.1},{"i":46.7,"v":39.4},{"i":47.6,"v":36.3},{"i":48.6,"v":37.3},{"i":49.6,"v":40.5},{"i":50.7,"v":41.5},{"i":51.6,"v":37.7},{"i":52.7,"v":39.7},{"i":53.7,"v":43.3},{"i":54.6,"v":41.7},{"i":55.7,"v":47.5},{"i":56.7,"v":46.3},{"i":57.7,"v":44.2},{"i":58.8,"v":49.3},{"i":59.7,"v":52.2},{"i":60.8,"v":53.1},
{"i":61.8,"v":60.3},{"i":62.7,"v":63.4},{"i":63.8,"v":65.4},{"i":64.8,"v":69.8},{"i":65.9,"v":71.4},{"i":67,"v":62.4},{"i":68,"v":68.6},{"i":69,"v":66.6},{"i":70.1,"v":64.2},{"i":71,"v":67.8},{"i":72,"v":69},{"i":73.1,"v":64.6},{"i":74.1,"v":57.9},{"i":75.1,"v":50.7},{"i":76.1,"v":48.7},{"i":77.1,"v":49.9},{"i":78.2,"v":47.1},{"i":79.2,"v":44.5},{"i":80.2,"v":45.4},{"i":81.2,"v":41.1},
{"i":82.2,"v":51.7},{"i":83.2,"v":53.4},{"i":84.3,"v":57},{"i":85.3,"v":61.2},{"i":86.4,"v":64.2},{"i":87.4,"v":67},{"i":88.3,"v":66},{"i":89.4,"v":57.9},{"i":90.4,"v":59.8},{"i":91.4,"v":57.4},{"i":92.4,"v":59.4},{"i":93.4,"v":58.6},{"i":94.4,"v":49.5},{"i":95.5,"v":51.1},{"i":96.6,"v":55.7},{"i":97.6,"v":53.1},{"i":98.6,"v":56.1},{"i":99.6,"v":53.8},{"i":100.6,"v":47.5},{"i":101.7,"v":46.3},
{"i":102.7,"v":42.1},{"i":103.4,"v":41.5},{"i":104.5,"v":38.5},{"i":105.7,"v":45.3},{"i":106.7,"v":40.3},{"i":107.7,"v":40},{"i":108.7,"v":41.8},{"i":109.7,"v":39.7},{"i":110.8,"v":39.3},{"i":111.8,"v":37.7},{"i":112.8,"v":43.3},{"i":113.8,"v":49.3},{"i":114.8,"v":45.1},{"i":115.9,"v":43.3},{"i":116.9,"v":43.5},{"i":117.9,"v":51.7},{"i":118.9,"v":55.2},{"i":119.9,"v":55.8},{"i":120.9,"v":58.8},{"i":121.9,"v":48.9},
{"i":122.9,"v":49.9},{"i":124,"v":47.1},{"i":125,"v":49.9},{"i":126.1,"v":57.9},{"i":127.1,"v":50.2},{"i":128.1,"v":50.5},{"i":129.1,"v":46.3},{"i":130.3,"v":48.7},{"i":131.2,"v":46.6},{"i":132.3,"v":50.8},{"i":133.3,"v":53.8},{"i":134.3,"v":44.1},{"i":135.3,"v":44.1},{"i":136.3,"v":49.9},{"i":137.3,"v":45.7},{"i":138.3,"v":43.5},{"i":139.3,"v":41.1},{"i":140.4,"v":38.7},{"i":141.4,"v":36.3},{"i":142.4,"v":36.1},
{"i":143.4,"v":34.3},{"i":144.4,"v":43.5},{"i":145.4,"v":47.1},{"i":146.5,"v":47.1},{"i":147.5,"v":49.9},{"i":148.5,"v":49.5},{"i":149.5,"v":52.6},{"i":150.6,"v":54.6},{"i":151.6,"v":47.1},{"i":152.7,"v":54.3},{"i":153.7,"v":49.3},{"i":154.7,"v":48.1},{"i":155.8,"v":50.7},{"i":156.7,"v":45.7},{"i":157.7,"v":48.1},{"i":158.7,"v":49.3},{"i":159.7,"v":48.7},{"i":160.8,"v":53.1},{"i":161.8,"v":51.4},{"i":162.8,"v":51.3},
{"i":163.9,"v":54.3},{"i":164.9,"v":49.5},{"i":165.9,"v":46.9},{"i":167,"v":54.6},{"i":168,"v":60.6},{"i":168.9,"v":63},{"i":170,"v":71},{"i":171,"v":68.4},{"i":172.1,"v":65.8},{"i":173.1,"v":67},{"i":174.1,"v":61.5},{"i":175.1,"v":60.3},{"i":176.1,"v":61.5},{"i":177.1,"v":69},{"i":178.2,"v":69.2},{"i":179,"v":71.7},{"i":179.9,"v":63.9},{"i":180.9,"v":62.4},{"i":181.9,"v":62.1},{"i":183,"v":61},
{"i":184,"v":61.8},{"i":185,"v":57},{"i":186,"v":58.2},{"i":187.1,"v":55.5},{"i":188.2,"v":46.6},{"i":189.2,"v":48.3},{"i":190.3,"v":52.6},{"i":191.3,"v":52.2},{"i":192.3,"v":51.7},{"i":193.4,"v":48.1},{"i":194.3,"v":45.1},{"i":195.3,"v":42.9},{"i":196.4,"v":45.9},{"i":197.4,"v":49},{"i":198.5,"v":52.2},{"i":199.5,"v":55.8},{"i":200.5,"v":56.7},{"i":201.6,"v":63},{"i":202.6,"v":64.6},{"i":203.7,"v":66.6},
{"i":204.7,"v":68.2},{"i":205.7,"v":66.2},{"i":206.7,"v":54.6},{"i":207.7,"v":57.4},{"i":208.8,"v":55.5},{"i":209.8,"v":57.4},{"i":210.8,"v":59.8},{"i":211.8,"v":61},{"i":212.8,"v":65.4},{"i":213.8,"v":71.4},{"i":214.8,"v":72},{"i":215.7,"v":75.8},{"i":216.8,"v":66},{"i":217.8,"v":59.1},{"i":218.8,"v":59.8},{"i":219.8,"v":53.1},{"i":220.8,"v":49.9},{"i":221.8,"v":51.9},{"i":222.9,"v":62.4},{"i":223.9,"v":60.6},
{"i":224.9,"v":58.5},{"i":225.9,"v":62.7},{"i":226.9,"v":66},{"i":228,"v":55},{"i":229.1,"v":57},{"i":230.1,"v":51.3},{"i":231.1,"v":56.2},{"i":232.2,"v":57.9},{"i":233.2,"v":65.4},{"i":234.3,"v":70.8},{"i":235.2,"v":75.2},{"i":236.2,"v":70.2},{"i":237.2,"v":66.6},{"i":238.2,"v":60.6},{"i":239.2,"v":61.8},{"i":240.2,"v":64.2},{"i":241.2,"v":66},{"i":242.2,"v":57.9},{"i":243.2,"v":54.6},{"i":244.2,"v":50.2},
{"i":245.1,"v":50.7},{"i":246.2,"v":49.9},{"i":247.3,"v":46.6},{"i":248.2,"v":51.4},{"i":249.4,"v":53.4},{"i":250.4,"v":50.5},{"i":251.4,"v":54},{"i":252.4,"v":58.2},{"i":253.4,"v":59.4},{"i":254.5,"v":56.2},{"i":255.5,"v":59.1},{"i":256.5,"v":57.3},{"i":257.6,"v":57.9},{"i":258.6,"v":57},{"i":259.5,"v":61.8},{"i":260.5,"v":62.7},{"i":261.6,"v":63.6},{"i":262.6,"v":67.8},{"i":263.7,"v":69.8},{"i":264.7,"v":66.6},
{"i":265.6,"v":65},{"i":266.6,"v":73.8},{"i":267.6,"v":75},{"i":268.7,"v":62.7},{"i":269.7,"v":63.4},{"i":270.8,"v":57},{"i":271.8,"v":62.2},{"i":272.8,"v":64.2},{"i":273.8,"v":67.8},{"i":274.8,"v":68.8},{"i":275.9,"v":81},{"i":276.8,"v":81.3},{"i":277.8,"v":67.8},{"i":278.9,"v":66.6},{"i":279.9,"v":66.8},{"i":281,"v":56.4},{"i":282,"v":61.8},{"i":283,"v":63.6},{"i":284,"v":58.6},{"i":285,"v":55.8},
{"i":286.1,"v":57.9},{"i":287.1,"v":60.6},{"i":288,"v":59.4},{"i":289,"v":60.6},{"i":290,"v":56.2},{"i":291,"v":48.1},{"i":292,"v":39.7}
],
"fib1": [{"p":2571.75,"t":"0(2571.75)","a":14.95,"b":295.1,"ta":14.2},{"p":2330.85,"t":"0.236(2330.85)","a":14.95,"b":295.1,"ta":14.2},{"p":2181.82,"t":"0.382(2181.82)","a":14.95,"b":295.1,"ta":14.2},{"p":2061.38,"t":"0.5(2061.38)","a":14.95,"b":295.1,"ta":14.2},{"p":1940.93,"t":"0.618(1940.93)","a":14.95,"b":295.1,"ta":14.2},{"p":1769.44,"t":"0.786(1769.44)","a":14.95,"b":295.1,"ta":14.2},{"p":1551.00,"t":"1(1551.00)","a":14.95,"b":295.1,"ta":14.2}],
"fib2": [{"p":2135.00,"t":"0.786(2135.00)","a":281,"b":319.9,"ta":318.3},{"p":2067.75,"t":"1(2067.75)","a":281,"b":319.9,"ta":318.3},{"p":1982.27,"t":"1.272(1982.27)","a":281,"b":319.9,"ta":318.3},{"p":1937.65,"t":"1.414(1937.65)","a":281,"b":319.9,"ta":318.3},{"p":1873.54,"t":"1.618(1873.54)","a":281,"b":319.9,"ta":318.3},{"p":1559.29,"t":"2.618(1559.29)","a":281,"b":319.9,"ta":318.3}]
},
"vconcat": [
{
"width": 1638, "height": 382,
"layer": [
{"data": {"values": [{"a": 14.95, "b": 295.1, "p": 2571.75, "q": 1400}]}, "mark": {"type": "rect", "color": "#000", "opacity": 0.2, "clip": true},
 "encoding": {"x": {"field": "a", "type": "quantitative", "scale": {"domain": [-20.1, 319.9], "nice": false, "zero": false}, "title": null, "axis": {"values": [0,21,43,63,84,106,127,148,170,191,214,236,258,280,305], "tickCount": 40, "grid": true, "labels": false, "ticks": false, "domain": false}}, "x2": {"field": "b"}, "y": {"field": "p", "type": "quantitative", "scale": {"domain": [1487.9, 2702.4], "nice": false, "zero": false}, "title": null, "axis": {"orient": "right", "values": [1500,1600,1700,1800,1900,2000,2100,2200,2300,2400,2500,2600], "tickCount": 30, "format": ".2f", "grid": true, "tickSize": 4, "labelPadding": 4, "labelOverlap": false}}, "y2": {"field": "q"}}},
{"data": {"values": [{"a": 281, "b": 319.9, "p": 2135, "q": 1400}]}, "mark": {"type": "rect", "color": "#000", "opacity": 0.36, "clip": true},
 "encoding": {"x": {"field": "a", "type": "quantitative", "title": null}, "x2": {"field": "b"}, "y": {"field": "p", "type": "quantitative", "title": null}, "y2": {"field": "q"}}},
{"data": {"name": "fib1"}, "mark": {"type": "rule", "color": "#111", "strokeWidth": 1},
 "encoding": {"x": {"field": "a", "type": "quantitative", "title": null}, "x2": {"field": "b"}, "y": {"field": "p", "type": "quantitative", "title": null}}},
{"data": {"name": "fib1"}, "mark": {"type": "text", "align": "right", "baseline": "middle", "dy": 1.5, "font": "DejaVu Sans", "fontSize": 12.5, "color": "#222"},
 "encoding": {"x": {"field": "ta", "type": "quantitative", "title": null}, "y": {"field": "p", "type": "quantitative", "title": null}, "text": {"field": "t", "type": "nominal"}}},
{"data": {"name": "fib2"}, "mark": {"type": "rule", "color": "#111", "strokeWidth": 1},
 "encoding": {"x": {"field": "a", "type": "quantitative", "title": null}, "x2": {"field": "b"}, "y": {"field": "p", "type": "quantitative", "title": null}}},
{"data": {"name": "fib2"}, "mark": {"type": "text", "align": "right", "baseline": "middle", "dy": 1, "font": "DejaVu Sans", "fontSize": 12.5, "color": "#222"},
 "encoding": {"x": {"field": "ta", "type": "quantitative", "title": null}, "y": {"field": "p", "type": "quantitative", "title": null}, "text": {"field": "t", "type": "nominal"}}},
{"data": {"values": [{"i": 14.95, "p": 1551}, {"i": 295.1, "p": 2571.75}]}, "mark": {"type": "line", "color": "#333", "strokeWidth": 1, "strokeDash": [4, 3]},
 "encoding": {"x": {"field": "i", "type": "quantitative", "title": null}, "y": {"field": "p", "type": "quantitative", "title": null}}},
{"data": {"values": [{"i": 277, "p": 2571.75}, {"i": 280.9, "p": 2259}, {"i": 293.8, "p": 2380}]}, "mark": {"type": "line", "color": "#333", "strokeWidth": 1, "strokeDash": [4, 3]},
 "encoding": {"x": {"field": "i", "type": "quantitative", "title": null}, "y": {"field": "p", "type": "quantitative", "title": null}}},
{"data": {"values": [{"a": -20.1, "b": 319.9, "p": 2157.5}]}, "mark": {"type": "rule", "color": "#e00000", "strokeWidth": 1, "strokeDash": [2, 2]},
 "encoding": {"x": {"field": "a", "type": "quantitative", "title": null}, "x2": {"field": "b"}, "y": {"field": "p", "type": "quantitative", "title": null}}},
{"data": {"name": "px"}, "mark": {"type": "rule", "color": "#555", "strokeWidth": 1},
 "encoding": {"x": {"field": "i", "type": "quantitative", "title": null}, "y": {"field": "l", "type": "quantitative", "title": null}, "y2": {"field": "h"}}},
{"data": {"name": "px"}, "mark": {"type": "bar", "width": 3.2, "stroke": "#2a2a2a", "strokeWidth": 0.6},
 "encoding": {"x": {"field": "i", "type": "quantitative", "title": null}, "y": {"field": "o", "type": "quantitative", "title": null}, "y2": {"field": "c"}, "fill": {"condition": {"test": "datum.c >= datum.o", "value": "#19d219"}, "value": "#e00000"}}},
{"data": {"values": [{"a": 231, "b": 318.7, "p": 2070, "q": 1927}]}, "mark": {"type": "rect", "fill": "#2a4aa8", "fillOpacity": 0.5, "stroke": "#1f3c9a", "strokeWidth": 1.5},
 "encoding": {"x": {"field": "a", "type": "quantitative", "title": null}, "x2": {"field": "b"}, "y": {"field": "p", "type": "quantitative", "title": null}, "y2": {"field": "q"}}},
{"data": {"values": [{"i": 140.3, "p": 2402, "q": 2370}, {"i": 243.2, "p": 1924, "q": 1924}]}, "mark": {"type": "area", "fill": "#8c1414", "fillOpacity": 0.5, "stroke": "#8b1a1a", "strokeWidth": 2},
 "encoding": {"x": {"field": "i", "type": "quantitative", "title": null}, "y": {"field": "p", "type": "quantitative", "title": null}, "y2": {"field": "q"}}},
{"data": {"values": [{"a": 42, "b": 141.3, "p": 2475.1, "q": 2373.3}]}, "mark": {"type": "rect", "fill": "#8c1414", "fillOpacity": 0.5, "stroke": "#8b1a1a", "strokeWidth": 2, "cornerRadius": 7},
 "encoding": {"x": {"field": "a", "type": "quantitative", "title": null}, "x2": {"field": "b"}, "y": {"field": "p", "type": "quantitative", "title": null}, "y2": {"field": "q"}}},
{"data": {"values": [{"i": 91.65, "p": 2424, "t": "Support zone 2060-1940 area for the expected bottom of this correction"}]}, "mark": {"type": "text", "align": "center", "baseline": "middle", "font": "DejaVu Sans", "fontSize": 12.5, "color": "#ffffff"},
 "encoding": {"x": {"field": "i", "type": "quantitative", "title": null}, "y": {"field": "p", "type": "quantitative", "title": null}, "text": {"field": "t", "type": "nominal"}}},
{"data": {"values": [{"i": -16.7, "p": 1523, "t": "Investing"}]}, "mark": {"type": "text", "align": "left", "baseline": "alphabetic", "font": "Liberation Sans", "fontSize": 21, "fontWeight": "bold", "color": "#111"},
 "encoding": {"x": {"field": "i", "type": "quantitative", "title": null}, "y": {"field": "p", "type": "quantitative", "title": null}, "text": {"field": "t", "type": "nominal"}}},
{"data": {"values": [{"i": 1.6, "p": 1523, "t": ".com"}]}, "mark": {"type": "text", "align": "left", "baseline": "alphabetic", "font": "Liberation Sans", "fontSize": 14, "color": "#555"},
 "encoding": {"x": {"field": "i", "type": "quantitative", "title": null}, "y": {"field": "p", "type": "quantitative", "title": null}, "text": {"field": "t", "type": "nominal"}}},
{"data": {"values": [{"a": 320.1, "b": 330.3, "p": 2181.3, "q": 2133.7}]}, "mark": {"type": "rect", "color": "#ff0000"},
 "encoding": {"x": {"field": "a", "type": "quantitative", "title": null}, "x2": {"field": "b"}, "y": {"field": "p", "type": "quantitative", "title": null}, "y2": {"field": "q"}}},
{"data": {"values": [{"i": 325.2, "p": 2157.5, "t": "2157.50"}]}, "mark": {"type": "text", "align": "center", "baseline": "middle", "font": "Liberation Sans", "fontSize": 11.5, "fontWeight": "bold", "color": "#ffffff"},
 "encoding": {"x": {"field": "i", "type": "quantitative", "title": null}, "y": {"field": "p", "type": "quantitative", "title": null}, "text": {"field": "t", "type": "nominal"}}},
{"data": {"values": [{"a": 319.9, "b": 331.6, "p": 2702.4}]}, "mark": {"type": "rule", "color": "#555", "strokeWidth": 1},
 "encoding": {"x": {"field": "a", "type": "quantitative", "title": null}, "x2": {"field": "b"}, "y": {"field": "p", "type": "quantitative", "title": null}}},
{"data": {"values": [{"a": 331.6, "p": 2702.4, "q": 1487.9}]}, "mark": {"type": "rule", "color": "#555", "strokeWidth": 1},
 "encoding": {"x": {"field": "a", "type": "quantitative", "title": null}, "y": {"field": "p", "type": "quantitative", "title": null}, "y2": {"field": "q"}}}
]
},
{
"width": 1638, "height": 190,
"layer": [
{"data": {"name": "hist"}, "mark": {"type": "bar", "color": "#ff4d4d", "width": 1},
 "encoding": {"x": {"field": "i", "type": "quantitative", "title": null, "scale": {"domain": [-20.1, 319.9], "nice": false, "zero": false}, "axis": {"values": [0,21,43,63,84,106,127,148,170,191,214,236,258,280,305], "tickCount": 40, "grid": true, "labels": false, "ticks": false, "domain": false}}, "y": {"field": "v", "type": "quantitative", "title": null, "scale": {"domain": [-44.6, 93.7], "nice": false}, "axis": {"orient": "right", "values": [-25, 0, 25, 50, 75], "tickCount": 20, "labelExpr": "datum.value < 0 ? '-' + format(-datum.value, '.4f') : format(datum.value, '.4f')", "grid": true, "tickSize": 4, "labelPadding": 4, "labelOverlap": false}}}},
{"data": {"name": "ms"}, "mark": {"type": "line", "color": "#ff5c5c", "strokeWidth": 1},
 "encoding": {"x": {"field": "i", "type": "quantitative", "title": null}, "y": {"field": "v", "type": "quantitative", "title": null}}},
{"data": {"name": "mb"}, "mark": {"type": "line", "color": "#5c5cff", "strokeWidth": 1},
 "encoding": {"x": {"field": "i", "type": "quantitative", "title": null}, "y": {"field": "v", "type": "quantitative", "title": null}}},
{"data": {"values": [{"i": 184.9, "p": 65.7, "q": 58.5}, {"i": 292.2, "p": 0.4, "q": 0.4}]}, "mark": {"type": "area", "fill": "#8c1414", "fillOpacity": 0.5, "stroke": "#8b1a1a", "strokeWidth": 2},
 "encoding": {"x": {"field": "i", "type": "quantitative", "title": null}, "y": {"field": "p", "type": "quantitative", "title": null}, "y2": {"field": "q"}}},
{"data": {"values": [{"a": 123.5, "b": 185.7, "p": 82, "q": 59}]}, "mark": {"type": "rect", "fill": "#8c1414", "fillOpacity": 0.5, "stroke": "#8b1a1a", "strokeWidth": 2, "cornerRadius": 7},
 "encoding": {"x": {"field": "a", "type": "quantitative", "title": null}, "x2": {"field": "b"}, "y": {"field": "p", "type": "quantitative", "title": null}, "y2": {"field": "q"}}},
{"data": {"values": [{"i": 154.6, "v": 70.5, "t": "MACD far away from ZLR (zero line Reversal)"}]}, "mark": {"type": "text", "align": "center", "baseline": "middle", "font": "DejaVu Sans", "fontSize": 12.5, "color": "#ffffff"},
 "encoding": {"x": {"field": "i", "type": "quantitative", "title": null}, "y": {"field": "v", "type": "quantitative", "title": null}, "text": {"field": "t", "type": "nominal"}}},
{"data": {"values": [{"i": -18.1, "v": 81.5, "t": "MACD (12, 26, close, 9)"}]}, "mark": {"type": "text", "align": "left", "baseline": "middle", "font": "Liberation Sans", "fontSize": 14, "color": "#222"},
 "encoding": {"x": {"field": "i", "type": "quantitative", "title": null}, "y": {"field": "v", "type": "quantitative", "title": null}, "text": {"field": "t", "type": "nominal"}}},
{"data": {"values": [{"a": 331.6, "p": 93.7, "q": -44.6}]}, "mark": {"type": "rule", "color": "#555", "strokeWidth": 1},
 "encoding": {"x": {"field": "a", "type": "quantitative", "title": null}, "y": {"field": "p", "type": "quantitative", "title": null}, "y2": {"field": "q"}}}
]
},
{
"width": 1638, "height": 191,
"layer": [
{"data": {"values": [{"a": -20.1, "b": 319.9, "p": 70, "q": 30}]}, "mark": {"type": "rect", "color": "#993399", "opacity": 0.12},
 "encoding": {"x": {"field": "a", "type": "quantitative", "title": null, "scale": {"domain": [-20.1, 319.9], "nice": false, "zero": false}, "axis": {"values": [0,21,43,63,84,106,127,148,170,191,214,236,258,280,305], "tickCount": 40, "labelExpr": "['Nov','Dec','2016','Feb','Mar','Apr','May','Jun','Jul','Aug','Sep','Oct','Nov','Dec','2017'][indexof([0,21,43,63,84,106,127,148,170,191,214,236,258,280,305], datum.value)]", "grid": true, "labels": true, "ticks": true, "tickSize": 4, "domain": false, "labelPadding": 3, "labelFlush": false, "labelOverlap": false, "labelFontWeight": {"condition": {"test": "datum.value == 43 || datum.value == 305", "value": "bold"}, "value": "normal"}}}, "x2": {"field": "b"}, "y": {"field": "p", "type": "quantitative", "title": null, "scale": {"domain": [20.1, 88.6], "nice": false, "zero": false}, "axis": {"orient": "right", "values": [30, 40, 50, 60, 70, 80], "tickCount": 20, "format": ".4f", "grid": true, "tickSize": 4, "labelPadding": 4, "labelOverlap": false}}, "y2": {"field": "q"}}},
{"data": {"values": [{"a": -20.1, "b": 319.9, "p": 70}, {"a": -20.1, "b": 319.9, "p": 30}]}, "mark": {"type": "rule", "color": "#777", "strokeWidth": 1, "strokeDash": [4, 3]},
 "encoding": {"x": {"field": "a", "type": "quantitative", "title": null}, "x2": {"field": "b"}, "y": {"field": "p", "type": "quantitative", "title": null}}},
{"data": {"name": "rsi"}, "mark": {"type": "line", "color": "#aa55aa", "strokeWidth": 1},
 "encoding": {"x": {"field": "i", "type": "quantitative", "title": null}, "y": {"field": "v", "type": "quantitative", "title": null}}},
{"data": {"values": [{"i": 235.6, "p": 34.8, "q": 31.2}, {"i": 290, "p": 39.3, "q": 39.3}]}, "mark": {"type": "area", "fill": "#8c1414", "fillOpacity": 0.5, "stroke": "#8b1a1a", "strokeWidth": 2},
 "encoding": {"x": {"field": "i", "type": "quantitative", "title": null}, "y": {"field": "p", "type": "quantitative", "title": null}, "y2": {"field": "q"}}},
{"data": {"values": [{"a": 190.7, "b": 236.5, "p": 34, "q": 22.3}]}, "mark": {"type": "rect", "fill": "#8c1414", "fillOpacity": 0.5, "stroke": "#8b1a1a", "strokeWidth": 2, "cornerRadius": 7},
 "encoding": {"x": {"field": "a", "type": "quantitative", "title": null}, "x2": {"field": "b"}, "y": {"field": "p", "type": "quantitative", "title": null}, "y2": {"field": "q"}}},
{"data": {"values": [{"i": 213.6, "v": 28.2, "t": "Rsı far away from oversold area"}]}, "mark": {"type": "text", "align": "center", "baseline": "middle", "font": "DejaVu Sans", "fontSize": 12.5, "color": "#ffffff"},
 "encoding": {"x": {"field": "i", "type": "quantitative", "title": null}, "y": {"field": "v", "type": "quantitative", "title": null}, "text": {"field": "t", "type": "nominal"}}},
{"data": {"values": [{"i": -18.1, "v": 82.2, "t": "RSI (14)"}]}, "mark": {"type": "text", "align": "left", "baseline": "middle", "font": "Liberation Sans", "fontSize": 14, "color": "#222"},
 "encoding": {"x": {"field": "i", "type": "quantitative", "title": null}, "y": {"field": "v", "type": "quantitative", "title": null}, "text": {"field": "t", "type": "nominal"}}},
{"data": {"values": [{"a": 331.6, "p": 88.6, "q": 13.3}, {"a": -20.1, "p": 20.1, "q": 13.3}]}, "mark": {"type": "rule", "color": "#555", "strokeWidth": 1},
 "encoding": {"x": {"field": "a", "type": "quantitative", "title": null}, "y": {"field": "p", "type": "quantitative", "title": null}, "y2": {"field": "q"}}},
{"data": {"values": [{"a": -21.45, "b": 333, "p": 13.2, "q": 11.1}]}, "mark": {"type": "rect", "color": "#000"},
 "encoding": {"x": {"field": "a", "type": "quantitative", "title": null}, "x2": {"field": "b"}, "y": {"field": "p", "type": "quantitative", "title": null}, "y2": {"field": "q"}}}
]
}
]
}
